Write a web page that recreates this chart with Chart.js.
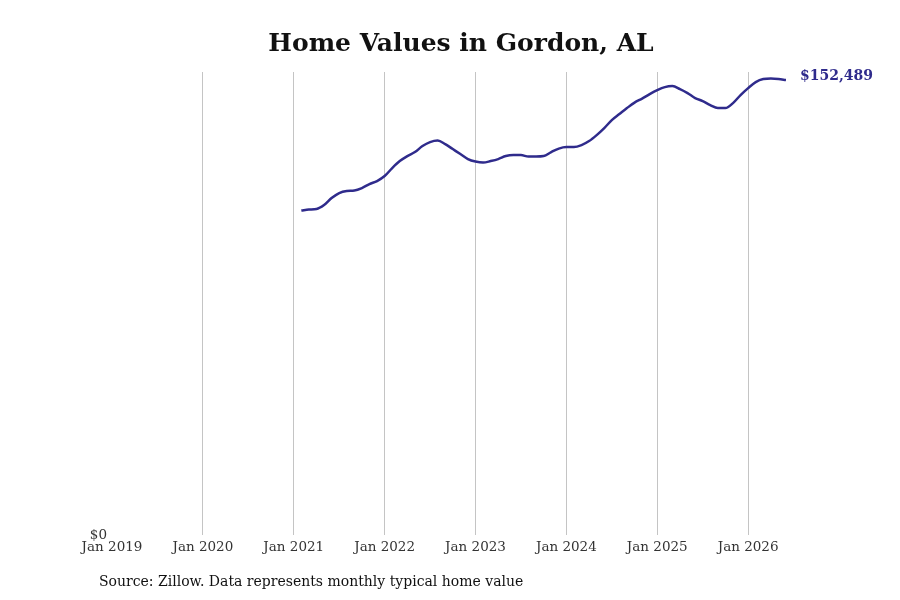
<!DOCTYPE html>
<html>
<head>
<meta charset="utf-8">
<script src="https://cdn.jsdelivr.net/npm/chart.js@4/dist/chart.umd.min.js"></script>
<style>
  body { margin: 0; background: #fff; }
  #wrap { position: relative; width: 900px; height: 600px; }
  #title {
    position: absolute; left: 22px; width: 878px; top: 28px; margin: 0;
    text-align: center; font: bold 25px "DejaVu Serif", serif; color: #111;
  }
  #source {
    position: absolute; left: 99px; top: 573px;
    font: 14px "DejaVu Serif", serif; color: #111;
  }
  canvas { position: absolute; left: 0; top: 0; }
</style>
</head>
<body>
<div id="wrap">
  <canvas id="homeChart" width="900" height="600"></canvas>
  <h1 id="title">Home Values in Gordon, AL</h1>
  <div id="source">Source: Zillow. Data represents monthly typical home value</div>
</div>
<script>
// months counted from Jan 2019 (0); series runs Feb 2021 .. Jun 2026
const startMonth = 25;
const homeValues = [
  108753, 109088, 109256, 110596, 112942, 114618, 115288, 115456, 116294, 117634, 118640,
  120315, 122996, 125342, 127018, 128359, 130369, 131710, 132213, 131040, 129364, 127688, 126013,
  125175, 124840, 125342, 126013, 127018, 127353, 127353, 126850, 126850, 127018, 128359, 129532,
  130034, 130034, 130705, 132045, 134056, 136402, 139083, 141094, 143105, 144948, 146289, 147797,
  149137, 150143, 150478, 149472, 148132, 146456, 145451, 144110, 143105, 143105, 144780, 147462,
  149808, 151818, 152824, 152990, 152824, 152489
];
const yearTicks = [0, 12, 24, 36, 48, 60, 72, 84];
const lineColor = "#2f2b8c";

const points = homeValues.map((v, i) => ({ x: startMonth + i, y: v }));

// label at the end of the line
const endLabel = {
  id: "endLabel",
  afterDatasetsDraw(chart) {
    const meta = chart.getDatasetMeta(0);
    const last = meta.data[meta.data.length - 1];
    const ctx = chart.ctx;
    ctx.save();
    ctx.font = "bold 14px 'DejaVu Serif', serif";
    ctx.fillStyle = lineColor;
    ctx.textBaseline = "middle";
    ctx.fillText("$" + homeValues[homeValues.length - 1].toLocaleString("en-US"), last.x + 14, last.y - 4);
    ctx.restore();
  }
};

new Chart(document.getElementById("homeChart"), {
  type: "line",
  data: {
    datasets: [{
      data: points,
      borderColor: lineColor,
      borderWidth: 2.5,
      pointRadius: 0,
      tension: 0.4,
      cubicInterpolationMode: "monotone"
    }]
  },
  options: {
    responsive: false,
    animation: false,
    layout: { padding: { left: 0, right: 114, top: 72, bottom: 42 } },
    plugins: { legend: { display: false }, tooltip: { enabled: false } },
    scales: {
      x: {
        type: "linear",
        min: 0,
        max: 89,
        afterBuildTicks: axis => { axis.ticks = yearTicks.map(v => ({ value: v })); },
        afterFit: axis => { axis.height = 23; },
        ticks: {
          padding: 4,
          color: "#333",
          font: { family: "'DejaVu Serif', serif", size: 13.5 },
          callback: v => "Jan " + (2019 + v / 12)
        },
        grid: {
          drawTicks: false,
          color: ctx => (ctx.tick && ctx.tick.value === 0 ? "rgba(0,0,0,0)" : "#c4c4c4")
        },
        border: { display: false }
      },
      y: {
        min: 0,
        max: 155200,
        afterBuildTicks: axis => { axis.ticks = [{ value: 0 }]; },
        afterFit: axis => { axis.width = 112; },
        ticks: {
          padding: 5,
          color: "#333",
          font: { family: "'DejaVu Serif', serif", size: 13.5 },
          callback: v => "$" + v
        },
        grid: { display: false, drawTicks: false },
        border: { display: false }
      }
    }
  },
  plugins: [endLabel]
});
</script>
</body>
</html>
